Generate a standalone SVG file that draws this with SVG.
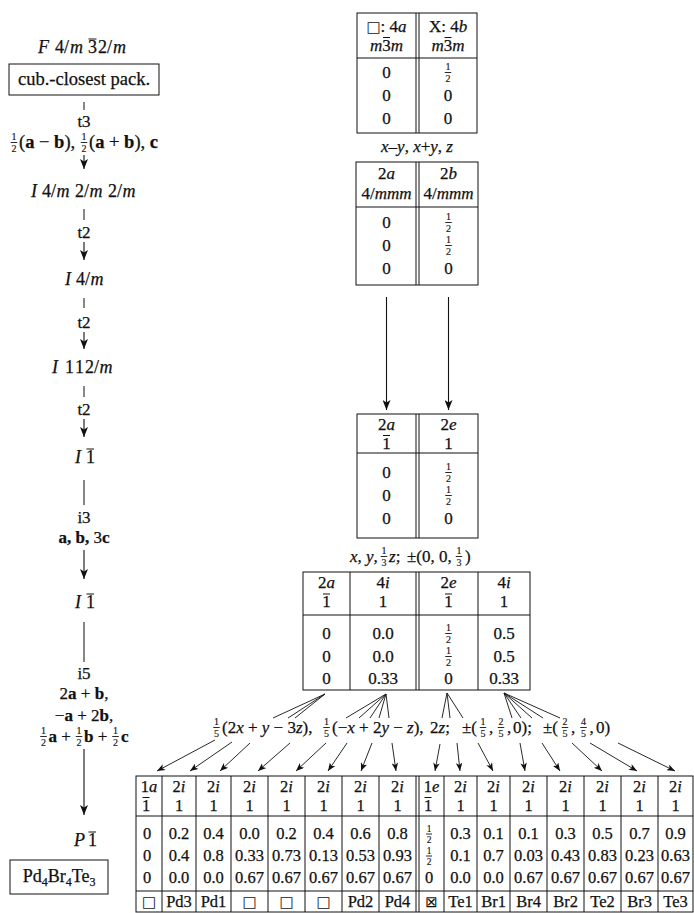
<svg xmlns="http://www.w3.org/2000/svg" width="694" height="913" viewBox="0 0 694 913">
<defs>
<style>
text{font-family:"Liberation Serif","DejaVu Serif",serif;fill:#111;}
.L{font-size:18px;stroke:#111;stroke-width:0.25px}
.T{font-size:17px;stroke:#111;stroke-width:0.25px}
.B{font-size:16.5px;stroke:#111;stroke-width:0.25px}
.m{text-anchor:middle}
.i{font-style:italic}
.b{font-weight:bold}
.fr{font-size:10px;text-anchor:middle;stroke:#111;stroke-width:0.15px}
.frs{font-size:9.5px;text-anchor:middle;stroke:#111;stroke-width:0.15px}
.sym{font-family:"DejaVu Sans",sans-serif;stroke-width:0}
.ln{stroke:#111;stroke-width:1;fill:none}
.bx{stroke:#111;stroke-width:1;fill:none}
.ar{stroke:#111;stroke-width:1.1;fill:none;marker-end:url(#ah)}
.fa{stroke:#111;stroke-width:0.9;fill:none;marker-end:url(#ah2)}
.fl{stroke:#111;stroke-width:0.9;fill:none}
</style>
<marker id="ah" viewBox="0 0 10 8" refX="10" refY="4" markerWidth="10" markerHeight="8" markerUnits="userSpaceOnUse" orient="auto"><path d="M0,0 L10,4 L0,8 L2.5,4 z" fill="#111"/></marker>
<marker id="ah2" viewBox="0 0 10 8" refX="10" refY="4" markerWidth="9" markerHeight="6.5" markerUnits="userSpaceOnUse" orient="auto"><path d="M0,0 L10,4 L0,8 L2.5,4 z" fill="#111"/></marker>
</defs>
<rect width="694" height="913" fill="#fff"/>

<!-- LEFT COLUMN: space groups -->
<g id="sg-Fm-3m">
<text class="L" y="53"><tspan class="i" x="38">F</tspan><tspan x="55">4</tspan><tspan x="64">/</tspan><tspan class="i" x="70">m</tspan><tspan x="88">3</tspan><tspan x="98">2</tspan><tspan x="107">/</tspan><tspan class="i" x="113">m</tspan></text>
<line class="ln" x1="88.5" y1="39" x2="96.5" y2="39"/>
</g>
<g id="box-ccp">
<rect class="bx" x="9" y="64" width="150" height="31"/>
<text class="L m" x="84" y="85" style="font-size:18.5px">cub.-closest pack.</text>
</g>
<g id="sg-I4mmm">
<text class="L" y="197"><tspan class="i" x="31">I</tspan><tspan x="42">4</tspan><tspan x="51">/</tspan><tspan class="i" x="56.5">m</tspan><tspan x="75">2</tspan><tspan x="84">/</tspan><tspan class="i" x="89.5">m</tspan><tspan x="108">2</tspan><tspan x="117">/</tspan><tspan class="i" x="122.5">m</tspan></text>
</g>
<g id="sg-I4m">
<text class="L" y="285"><tspan class="i" x="65">I</tspan><tspan x="76">4</tspan><tspan x="85">/</tspan><tspan class="i" x="90.5">m</tspan></text>
</g>
<g id="sg-I112m">
<text class="L" y="373"><tspan class="i" x="52">I</tspan><tspan x="65">1</tspan><tspan x="75">1</tspan><tspan x="85">2</tspan><tspan x="94">/</tspan><tspan class="i" x="99.5">m</tspan></text>
</g>
<g id="sg-I-1a">
<text class="L" y="463"><tspan class="i" x="75">I</tspan><tspan x="86">1</tspan></text>
<line class="ln" x1="86.5" y1="449" x2="94" y2="449"/>
</g>
<g id="sg-I-1b">
<text class="L" y="608"><tspan class="i" x="75">I</tspan><tspan x="86">1</tspan></text>
<line class="ln" x1="86.5" y1="594" x2="94" y2="594"/>
</g>
<g id="sg-P-1">
<text class="L" y="846"><tspan class="i" x="74">P</tspan><tspan x="88">1</tspan></text>
<line class="ln" x1="88.5" y1="832" x2="96" y2="832"/>
</g>
<g id="box-comp">
<rect class="bx" x="10" y="860" width="98" height="34"/>
<text class="L m" x="59" y="882">Pd<tspan font-size="12" dy="4">4</tspan><tspan dy="-4">Br</tspan><tspan font-size="12" dy="4">4</tspan><tspan dy="-4">Te</tspan><tspan font-size="12" dy="4">3</tspan></text>
</g>

<!-- LEFT COLUMN: relation labels -->
<g id="rel-labels">
<text class="T m" x="84" y="127">t3</text>
<text class="fr" x="14" y="140">1</text><line class="fl" x1="10.75" y1="142.5" x2="17.25" y2="142.5"/><text class="fr" x="14" y="151.8">2</text>
<text class="T" x="19" y="148" style="font-size:18.5px">(<tspan class="b">a</tspan> − <tspan class="b">b</tspan>),</text>
<text class="fr" x="84" y="140">1</text><line class="fl" x1="80.75" y1="142.5" x2="87.25" y2="142.5"/><text class="fr" x="84" y="151.8">2</text>
<text class="T" x="89" y="148" style="font-size:18.5px">(<tspan class="b">a</tspan> + <tspan class="b">b</tspan>), <tspan class="b">c</tspan></text>
<text class="T m" x="84" y="238">t2</text>
<text class="T m" x="84" y="328">t2</text>
<text class="T m" x="84" y="415">t2</text>
<text class="T m" x="84" y="523">i3</text>
<text class="T m b" x="84" y="543">a, b, <tspan font-weight="normal">3</tspan>c</text>
<text class="T m" x="84" y="679">i5</text>
<text class="T m" x="84" y="699">2<tspan class="b">a</tspan> + <tspan class="b">b</tspan>,</text>
<text class="T m" x="84" y="720.5">−<tspan class="b">a</tspan> + 2<tspan class="b">b</tspan>,</text>
<text class="fr" x="43.5" y="734">1</text><line class="fl" x1="40.25" y1="736.5" x2="46.75" y2="736.5"/><text class="fr" x="43.5" y="745.8">2</text>
<text class="T" x="48.5" y="742"><tspan class="b">a</tspan> +</text>
<text class="fr" x="79" y="734">1</text><line class="fl" x1="75.75" y1="736.5" x2="82.25" y2="736.5"/><text class="fr" x="79" y="745.8">2</text>
<text class="T" x="84" y="742"><tspan class="b">b</tspan> +</text>
<text class="fr" x="115.5" y="734">1</text><line class="fl" x1="112.25" y1="736.5" x2="118.75" y2="736.5"/><text class="fr" x="115.5" y="745.8">2</text>
<text class="T b" x="121" y="742">c</text>
</g>

<!-- TABLE 1 -->
<g id="tbl-Fm-3m">
<rect class="bx" x="357" y="13" width="120" height="120"/>
<line class="ln" x1="357" y1="58" x2="477" y2="58"/>
<line class="ln" x1="416" y1="13" x2="416" y2="133"/>
<line class="ln" x1="419" y1="13" x2="419" y2="133"/>
<text class="T m" x="386.5" y="31.5"><tspan class="sym" font-size="15">□</tspan>: 4<tspan class="i">a</tspan></text>
<text class="T m" x="386.5" y="50.5"><tspan class="i">m</tspan>3<tspan class="i">m</tspan></text>
<line class="ln" x1="383" y1="37.5" x2="390" y2="37.5"/>
<text class="T m" x="448" y="31.5">X: 4<tspan class="i">b</tspan></text>
<text class="T m" x="448" y="50.5"><tspan class="i">m</tspan>3<tspan class="i">m</tspan></text>
<line class="ln" x1="444.5" y1="37.5" x2="451.5" y2="37.5"/>
<text class="T m" x="386.5" y="78">0</text>
<text class="T m" x="386.5" y="101">0</text>
<text class="T m" x="386.5" y="124">0</text>
<text class="fr" x="448" y="70">1</text><line class="fl" x1="444.75" y1="72.5" x2="451.25" y2="72.5"/><text class="fr" x="448" y="81.8">2</text>
<text class="T m" x="448" y="101">0</text>
<text class="T m" x="448" y="124">0</text>
</g>
<g id="lbl-t1">
<text class="T m" x="417" y="152"><tspan class="i">x</tspan>–<tspan class="i">y</tspan>, <tspan class="i">x</tspan>+<tspan class="i">y</tspan>, <tspan class="i">z</tspan></text>
</g>

<!-- TABLE 2 -->
<g id="tbl-I4mmm">
<rect class="bx" x="356" y="162" width="122" height="123"/>
<line class="ln" x1="356" y1="207" x2="478" y2="207"/>
<line class="ln" x1="416" y1="162" x2="416" y2="285"/>
<line class="ln" x1="419" y1="162" x2="419" y2="285"/>
<text class="T m" x="386.5" y="179">2<tspan class="i">a</tspan></text>
<text class="T m" x="386.5" y="199">4/<tspan class="i">mmm</tspan></text>
<text class="T m" x="448.5" y="179">2<tspan class="i">b</tspan></text>
<text class="T m" x="448.5" y="199">4/<tspan class="i">mmm</tspan></text>
<text class="T m" x="386.5" y="228">0</text>
<text class="T m" x="386.5" y="251">0</text>
<text class="T m" x="386.5" y="274">0</text>
<text class="fr" x="448.5" y="220">1</text><line class="fl" x1="445.25" y1="222.5" x2="451.75" y2="222.5"/><text class="fr" x="448.5" y="231.8">2</text>
<text class="fr" x="448.5" y="243">1</text><line class="fl" x1="445.25" y1="245.5" x2="451.75" y2="245.5"/><text class="fr" x="448.5" y="254.8">2</text>
<text class="T m" x="448.5" y="274">0</text>
</g>

<!-- TABLE 3 -->
<g id="tbl-I-1">
<rect class="bx" x="357" y="414" width="121" height="124"/>
<line class="ln" x1="357" y1="453" x2="478" y2="453"/>
<line class="ln" x1="416" y1="414" x2="416" y2="538"/>
<line class="ln" x1="419" y1="414" x2="419" y2="538"/>
<text class="T m" x="386.5" y="429.5">2<tspan class="i">a</tspan></text>
<text class="T m" x="386.5" y="448.5">1</text>
<line class="ln" x1="383" y1="435.5" x2="390" y2="435.5"/>
<text class="T m" x="448.5" y="429.5">2<tspan class="i">e</tspan></text>
<text class="T m" x="448.5" y="448.5">1</text>
<text class="T m" x="386.5" y="478">0</text>
<text class="T m" x="386.5" y="501">0</text>
<text class="T m" x="386.5" y="524">0</text>
<text class="fr" x="448.5" y="470">1</text><line class="fl" x1="445.25" y1="472.5" x2="451.75" y2="472.5"/><text class="fr" x="448.5" y="481.8">2</text>
<text class="fr" x="448.5" y="493">1</text><line class="fl" x1="445.25" y1="495.5" x2="451.75" y2="495.5"/><text class="fr" x="448.5" y="504.8">2</text>
<text class="T m" x="448.5" y="524">0</text>
</g>
<g id="lbl-t3">
<text class="T" x="350" y="562"><tspan class="i">x</tspan>, <tspan class="i">y</tspan>,</text>
<text class="fr" x="384" y="554">1</text><line class="fl" x1="380.75" y1="556.5" x2="387.25" y2="556.5"/><text class="fr" x="384" y="565.8">3</text>
<text class="T" x="389" y="562"><tspan class="i">z</tspan>;</text>
<text class="T" x="407" y="562">±(0, 0,</text>
<text class="fr" x="459" y="554">1</text><line class="fl" x1="455.75" y1="556.5" x2="462.25" y2="556.5"/><text class="fr" x="459" y="565.8">3</text>
<text class="T" x="465" y="562">)</text>
</g>

<!-- TABLE 4 -->
<g id="tbl-I-1-3c">
<rect class="bx" x="303" y="572" width="227" height="118"/>
<line class="ln" x1="303" y1="615" x2="530" y2="615"/>
<line class="ln" x1="350" y1="572" x2="350" y2="690"/>
<line class="ln" x1="416" y1="572" x2="416" y2="690"/>
<line class="ln" x1="419" y1="572" x2="419" y2="690"/>
<line class="ln" x1="478" y1="572" x2="478" y2="690"/>
<text class="T m" x="326.5" y="588">2<tspan class="i">a</tspan></text>
<text class="T m" x="383" y="588">4<tspan class="i">i</tspan></text>
<text class="T m" x="448.5" y="588">2<tspan class="i">e</tspan></text>
<text class="T m" x="504" y="588">4<tspan class="i">i</tspan></text>
<text class="T m" x="326.5" y="607">1</text>
<line class="ln" x1="323" y1="594" x2="330" y2="594"/>
<text class="T m" x="383" y="607">1</text>
<text class="T m" x="448.5" y="607">1</text>
<line class="ln" x1="445" y1="594" x2="452" y2="594"/>
<text class="T m" x="504" y="607">1</text>
<text class="T m" x="326.5" y="639">0</text>
<text class="T m" x="326.5" y="662">0</text>
<text class="T m" x="326.5" y="684">0</text>
<text class="T m" x="383" y="639">0.0</text>
<text class="T m" x="383" y="662">0.0</text>
<text class="T m" x="383" y="684">0.33</text>
<text class="fr" x="448.5" y="631">1</text><line class="fl" x1="445.25" y1="633.5" x2="451.75" y2="633.5"/><text class="fr" x="448.5" y="642.8">2</text>
<text class="fr" x="448.5" y="654">1</text><line class="fl" x1="445.25" y1="656.5" x2="451.75" y2="656.5"/><text class="fr" x="448.5" y="665.8">2</text>
<text class="T m" x="448.5" y="684">0</text>
<text class="T m" x="504" y="639">0.5</text>
<text class="T m" x="504" y="662">0.5</text>
<text class="T m" x="504" y="684">0.33</text>
</g>

<!-- fan label -->
<g id="lbl-t4">
<text class="fr" x="216.5" y="725">1</text><line class="fl" x1="213.25" y1="727.5" x2="219.75" y2="727.5"/><text class="fr" x="216.5" y="736.8">5</text>
<text class="T" x="222" y="733">(2<tspan class="i">x</tspan> + <tspan class="i">y</tspan> − 3<tspan class="i">z</tspan>),</text>
<text class="fr" x="326.5" y="725">1</text><line class="fl" x1="323.25" y1="727.5" x2="329.75" y2="727.5"/><text class="fr" x="326.5" y="736.8">5</text>
<text class="T" x="332" y="733">(−<tspan class="i">x</tspan> + 2<tspan class="i">y</tspan> − <tspan class="i">z</tspan>),</text>
<text class="T" x="430" y="733">2<tspan class="i">z</tspan>;</text>
<text class="T" x="462" y="733">±(</text>
<text class="fr" x="483" y="725">1</text><line class="fl" x1="479.75" y1="727.5" x2="486.25" y2="727.5"/><text class="fr" x="483" y="736.8">5</text>
<text class="T" x="489" y="733">,</text>
<text class="fr" x="501" y="725">2</text><line class="fl" x1="497.75" y1="727.5" x2="504.25" y2="727.5"/><text class="fr" x="501" y="736.8">5</text>
<text class="T" x="507" y="733">,</text>
<text class="T" x="513" y="733">0);</text>
<text class="T" x="543" y="733">±(</text>
<text class="fr" x="565" y="725">2</text><line class="fl" x1="561.75" y1="727.5" x2="568.25" y2="727.5"/><text class="fr" x="565" y="736.8">5</text>
<text class="T" x="571" y="733">,</text>
<text class="fr" x="583.5" y="725">4</text><line class="fl" x1="580.25" y1="727.5" x2="586.75" y2="727.5"/><text class="fr" x="583.5" y="736.8">5</text>
<text class="T" x="589.5" y="733">,</text>
<text class="T" x="596" y="733">0)</text>
</g>

<!-- BOTTOM TABLE -->
<g id="tbl-P-1">
<rect class="bx" x="136" y="776" width="557" height="136"/>
<line class="ln" x1="136" y1="816" x2="693" y2="816"/>
<line class="ln" x1="136" y1="891" x2="693" y2="891"/>
<g class="ln">
<line x1="162" y1="776" x2="162" y2="912"/><line x1="196" y1="776" x2="196" y2="912"/>
<line x1="231" y1="776" x2="231" y2="912"/><line x1="268" y1="776" x2="268" y2="912"/>
<line x1="305" y1="776" x2="305" y2="912"/><line x1="342" y1="776" x2="342" y2="912"/>
<line x1="379" y1="776" x2="379" y2="912"/><line x1="416" y1="776" x2="416" y2="912"/>
<line x1="419" y1="776" x2="419" y2="912"/><line x1="444" y1="776" x2="444" y2="912"/>
<line x1="477" y1="776" x2="477" y2="912"/><line x1="510" y1="776" x2="510" y2="912"/>
<line x1="547" y1="776" x2="547" y2="912"/><line x1="584" y1="776" x2="584" y2="912"/>
<line x1="621" y1="776" x2="621" y2="912"/><line x1="658" y1="776" x2="658" y2="912"/>
</g>
<g class="B m">
<text x="149" y="792">1<tspan class="i">a</tspan></text>
<text x="179" y="792">2<tspan class="i">i</tspan></text><text x="213.5" y="792">2<tspan class="i">i</tspan></text>
<text x="249.5" y="792">2<tspan class="i">i</tspan></text><text x="286.5" y="792">2<tspan class="i">i</tspan></text>
<text x="323.5" y="792">2<tspan class="i">i</tspan></text><text x="360.5" y="792">2<tspan class="i">i</tspan></text>
<text x="397.5" y="792">2<tspan class="i">i</tspan></text>
<text x="431.5" y="792">1<tspan class="i">e</tspan></text>
<text x="460.5" y="792">2<tspan class="i">i</tspan></text><text x="493.5" y="792">2<tspan class="i">i</tspan></text>
<text x="528.5" y="792">2<tspan class="i">i</tspan></text><text x="565.5" y="792">2<tspan class="i">i</tspan></text>
<text x="602.5" y="792">2<tspan class="i">i</tspan></text><text x="639.5" y="792">2<tspan class="i">i</tspan></text>
<text x="675.5" y="792">2<tspan class="i">i</tspan></text>

<text x="146" y="810.5">1</text>
<text x="179" y="810.5">1</text><text x="213.5" y="810.5">1</text><text x="249.5" y="810.5">1</text><text x="286.5" y="810.5">1</text>
<text x="323.5" y="810.5">1</text><text x="360.5" y="810.5">1</text><text x="397.5" y="810.5">1</text>
<text x="428" y="810.5">1</text>
<text x="460.5" y="810.5">1</text><text x="493.5" y="810.5">1</text><text x="528.5" y="810.5">1</text><text x="565.5" y="810.5">1</text>
<text x="602.5" y="810.5">1</text><text x="639.5" y="810.5">1</text><text x="675.5" y="810.5">1</text>

<text x="147" y="839">0</text><text x="147" y="861">0</text><text x="147" y="883">0</text>
<text x="179" y="839">0.2</text><text x="179" y="861">0.4</text><text x="179" y="883">0.0</text>
<text x="213.5" y="839">0.4</text><text x="213.5" y="861">0.8</text><text x="213.5" y="883">0.0</text>
<text x="249.5" y="839">0.0</text><text x="249.5" y="861">0.33</text><text x="249.5" y="883">0.67</text>
<text x="286.5" y="839">0.2</text><text x="286.5" y="861">0.73</text><text x="286.5" y="883">0.67</text>
<text x="323.5" y="839">0.4</text><text x="323.5" y="861">0.13</text><text x="323.5" y="883">0.67</text>
<text x="360.5" y="839">0.6</text><text x="360.5" y="861">0.53</text><text x="360.5" y="883">0.67</text>
<text x="397.5" y="839">0.8</text><text x="397.5" y="861">0.93</text><text x="397.5" y="883">0.67</text>
<text x="429" y="883">0</text>
<text x="460.5" y="839">0.3</text><text x="460.5" y="861">0.1</text><text x="460.5" y="883">0.0</text>
<text x="493.5" y="839">0.1</text><text x="493.5" y="861">0.7</text><text x="493.5" y="883">0.0</text>
<text x="528.5" y="839">0.1</text><text x="528.5" y="861">0.03</text><text x="528.5" y="883">0.67</text>
<text x="565.5" y="839">0.3</text><text x="565.5" y="861">0.43</text><text x="565.5" y="883">0.67</text>
<text x="602.5" y="839">0.5</text><text x="602.5" y="861">0.83</text><text x="602.5" y="883">0.67</text>
<text x="639.5" y="839">0.7</text><text x="639.5" y="861">0.23</text><text x="639.5" y="883">0.67</text>
<text x="675.5" y="839">0.9</text><text x="675.5" y="861">0.63</text><text x="675.5" y="883">0.67</text>

<text x="149" y="907" class="sym" font-size="15">□</text>
<text x="179" y="907">Pd3</text><text x="213.5" y="907">Pd1</text>
<text x="249.5" y="907" class="sym" font-size="15">□</text>
<text x="286.5" y="907" class="sym" font-size="15">□</text>
<text x="323.5" y="907" class="sym" font-size="15">□</text>
<text x="360.5" y="907">Pd2</text><text x="397.5" y="907">Pd4</text>
<text x="431.5" y="907" class="sym" font-size="15">⊠</text>
<text x="460.5" y="907">Te1</text><text x="493.5" y="907">Br1</text><text x="528.5" y="907">Br4</text>
<text x="565.5" y="907">Br2</text><text x="602.5" y="907">Te2</text><text x="639.5" y="907">Br3</text>
<text x="675.5" y="907">Te3</text>
</g>
<line class="ln" x1="142.5" y1="797.5" x2="149.5" y2="797.5"/>
<line class="ln" x1="424.5" y1="797.5" x2="431.5" y2="797.5"/>
<text class="frs" x="429" y="831.5">1</text><line class="fl" x1="426" y1="834" x2="432" y2="834"/><text class="frs" x="429" y="842.5">2</text>
<text class="frs" x="429" y="853.5">1</text><line class="fl" x1="426" y1="856" x2="432" y2="856"/><text class="frs" x="429" y="864.5">2</text>
</g>

<!-- CONNECTORS -->
<g id="connectors">
<line class="ln" x1="84" y1="102" x2="84" y2="110"/>
<line class="ar" x1="84" y1="155" x2="84" y2="169"/>
<line class="ln" x1="84" y1="209" x2="84" y2="220"/>
<line class="ar" x1="84" y1="242" x2="84" y2="260"/>
<line class="ln" x1="84" y1="298" x2="84" y2="308"/>
<line class="ar" x1="84" y1="332" x2="84" y2="349"/>
<line class="ln" x1="84" y1="386" x2="84" y2="397"/>
<line class="ar" x1="84" y1="419" x2="84" y2="437"/>
<line class="ln" x1="84" y1="480" x2="84" y2="505"/>
<line class="ar" x1="84" y1="550" x2="84" y2="579"/>
<line class="ln" x1="84" y1="622" x2="84" y2="662"/>
<line class="ar" x1="84" y1="749" x2="84" y2="815"/>

<line class="ar" x1="386.5" y1="297" x2="386.5" y2="410"/>
<line class="ar" x1="448.5" y1="297" x2="448.5" y2="410"/>

<g class="fl">
<line x1="325" y1="694" x2="273" y2="718"/><line x1="325" y1="694" x2="288" y2="718"/><line x1="325" y1="694" x2="295" y2="718"/>
<line x1="386" y1="694" x2="346" y2="718"/><line x1="386" y1="694" x2="359" y2="718"/><line x1="386" y1="694" x2="370" y2="718"/><line x1="386" y1="694" x2="379" y2="718"/><line x1="386" y1="694" x2="389" y2="718"/>
<line x1="447" y1="693" x2="442" y2="718"/><line x1="447" y1="693" x2="450" y2="718"/><line x1="447" y1="693" x2="463" y2="718"/>
<line x1="504" y1="693" x2="512" y2="718"/><line x1="504" y1="693" x2="521" y2="718"/><line x1="504" y1="693" x2="532" y2="718"/><line x1="504" y1="693" x2="543" y2="718"/><line x1="504" y1="693" x2="560" y2="718"/>
</g>
<line class="fa" x1="215" y1="740" x2="157" y2="771"/>
<line class="fa" x1="232" y1="742" x2="190" y2="771"/>
<line class="fa" x1="250" y1="743" x2="220" y2="771"/>
<line class="fa" x1="290" y1="743" x2="258" y2="771"/>
<line class="fa" x1="326" y1="743" x2="296" y2="771"/>
<line class="fa" x1="347" y1="743" x2="328" y2="771"/>
<line class="fa" x1="372" y1="743" x2="361" y2="771"/>
<line class="fa" x1="392" y1="743" x2="396" y2="771"/>
<line class="fa" x1="440" y1="744" x2="435" y2="771"/>
<line class="fa" x1="457" y1="743" x2="460" y2="771"/>
<line class="fa" x1="478" y1="743" x2="493" y2="771"/>
<line class="fa" x1="520" y1="743" x2="525" y2="771"/>
<line class="fa" x1="542" y1="743" x2="560" y2="771"/>
<line class="fa" x1="572" y1="743" x2="602" y2="771"/>
<line class="fa" x1="590" y1="743" x2="637" y2="771"/>
<line class="fa" x1="618" y1="743" x2="675" y2="771"/>
</g>
</svg>
